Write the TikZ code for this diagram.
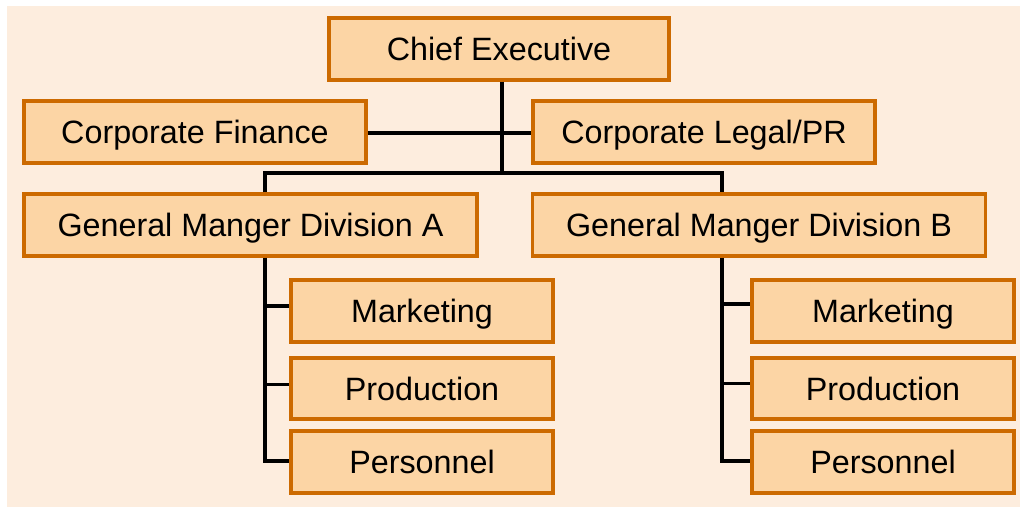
\documentclass[tikz,border=0pt]{standalone}
\usepackage{fontspec}
\setmainfont{Liberation Sans}
\definecolor{bgpeach}{HTML}{FDEDDE}
\definecolor{boxfill}{HTML}{FCD5A5}
\definecolor{boxline}{HTML}{CC6A00}
\begin{document}
\begin{tikzpicture}[x=1pt,y=-1pt,
  orgbox/.style={draw=boxline, fill=boxfill, line width=3.3pt, minimum height=62pt, inner sep=0pt,
    font=\fontsize{32.3}{38}\selectfont, text=black, text height=23.3pt, text depth=0pt},
  conn/.style={draw=black, line width=3.8pt}]
\useasboundingbox (0,0) rectangle (1020,509);
\fill[bgpeach] (7,6) rectangle (1020,507);
% helper coordinates
\coordinate (spine) at (502,173);
\coordinate (trA) at (265,0);
\coordinate (trB) at (722,0);
% nodes
\node[orgbox, minimum width=340pt] (ce) at (499,49) {Chief Executive};
\node[orgbox, minimum width=342pt] (fin) at (195,132) {Corporate Finance};
\node[orgbox, minimum width=342pt] (leg) at (704,132) {Corporate Legal/PR};
\node[orgbox, minimum width=453pt] (gA) at (250.5,225) {General Manger Division A};
\node[orgbox, minimum width=453pt] (gB) at (759,225) {General Manger Division B};
\node[orgbox, minimum width=262pt] (mkA) at (422,311) {Marketing};
\node[orgbox, minimum width=262pt, minimum height=61pt] (prA) at (422,388.5) {Production};
\node[orgbox, minimum width=262pt] (peA) at (422,462) {Personnel};
\node[orgbox, minimum width=262pt] (mkB) at (883,311) {Marketing};
\node[orgbox, minimum width=262pt, minimum height=61pt] (prB) at (883,388.5) {Production};
\node[orgbox, minimum width=262pt] (peB) at (883,462) {Personnel};
% connectors
\draw[conn] ([yshift=-1pt]fin.east) -- ([yshift=-1pt]leg.west);
\draw[conn] (ce.south -| spine) -- (spine);
\draw[conn, line join=miter] (gA.north -| trA) |- (spine) -| (gB.north -| trB);
\draw[conn, line join=miter] (gA.south -| trA) |- ([yshift=1pt]peA.west);
\draw[conn] ([yshift=5pt]mkA.west -| trA) -- ([yshift=5pt]mkA.west);
\draw[conn] ([yshift=4pt]prA.west -| trA) -- ([yshift=4pt]prA.west);
\draw[conn, line join=miter] (gB.south -| trB) |- ([yshift=1pt]peB.west);
\draw[conn] ([yshift=7pt]mkB.west -| trB) -- ([yshift=7pt]mkB.west);
\draw[conn] ([yshift=5pt]prB.west -| trB) -- ([yshift=5pt]prB.west);
\end{tikzpicture}
\end{document}
